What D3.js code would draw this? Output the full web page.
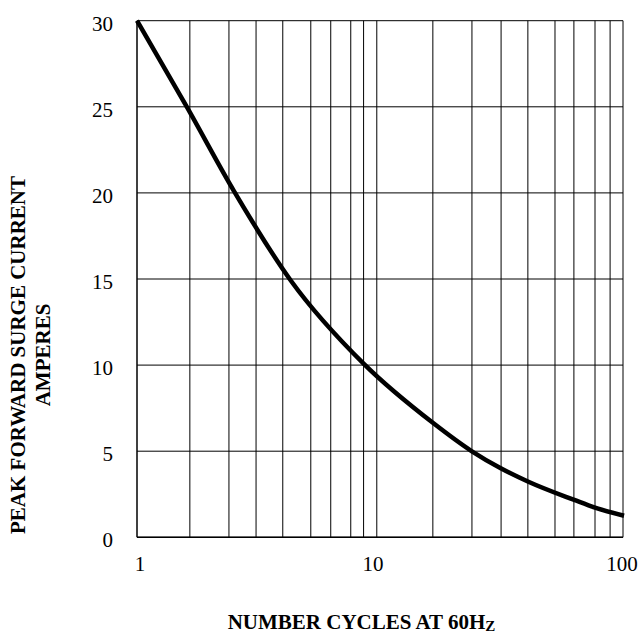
<!DOCTYPE html>
<html>
<head>
<meta charset="utf-8">
<script src="https://cdn.jsdelivr.net/npm/d3@7"></script>
<style>
  body { margin: 0; background: #fff; }
  svg text { font-family: "Liberation Serif", "Times New Roman", serif; fill: #000; }
</style>
</head>
<body>
<svg id="chart"></svg>
<script>
// surge curve
var cycles  = [1, 1.61, 2.51, 4.3, 8.54, 16.6, 23.8, 31.4, 40.8, 63, 76.7, 101];
var current = [30, 24.95, 20.09, 14.9, 10.1, 6.62, 5.01, 4.01, 3.23, 2.17, 1.72, 1.25];

// the printed grid is not a true log grid, so keep where its lines really sit
var xGrid = [1.65, 2.39, 3.09, 3.98, 5.19, 6.27, 7.58, 8.56, 9.7, 16.5, 23.9, 31.5, 40.6, 52.5, 62.8, 76.7, 88.5, 100];
var xTicks = [1, 10, 100];
var yTicks = [0, 5, 10, 15, 20, 25, 30];

var width = 639, height = 633;
var margin = {top: 20.7, right: 16, bottom: 95.7, left: 137};

var svg = d3.select("#chart")
    .attr("width", width)
    .attr("height", height);

var x = d3.scaleLog()
  .domain([1, 100])
  .range([margin.left, width - margin.right]);
var y = d3.scaleLinear()
  .domain([0, 30])
  .range([height - margin.bottom, margin.top]);

var data = cycles.map(function(c, i) { return {c: c, a: current[i]}; });

// grid
svg.append("g")
  .attr("class", "vgrid")
  .selectAll("line")
    .data(xGrid)
    .enter().append("line")
      .attr("x1", function(d) { return x(d); })
      .attr("x2", function(d) { return x(d); })
      .attr("y1", y(30))
      .attr("y2", y(0))
      .style("stroke", "#000")
      .style("stroke-width", 1);

svg.append("g")
  .attr("class", "hgrid")
  .selectAll("line")
    .data(yTicks)
    .enter().append("line")
      .attr("x1", x(1))
      .attr("x2", x(100))
      .attr("y1", function(d) { return y(d); })
      .attr("y2", function(d) { return y(d); })
      .style("stroke", "#000")
      .style("stroke-width", 1);

// left and bottom edge of the frame
svg.append("line")
  .attr("x1", x(1)).attr("x2", x(1))
  .attr("y1", y(30)).attr("y2", y(0))
  .style("stroke", "#000")
  .style("stroke-width", 1.5);
svg.append("line")
  .attr("x1", x(1)).attr("x2", x(100))
  .attr("y1", y(0)).attr("y2", y(0))
  .style("stroke", "#000")
  .style("stroke-width", 1.5);

// tick labels
svg.append("g")
  .selectAll("text")
    .data(yTicks)
    .enter().append("text")
      .attr("text-anchor", "end")
      .attr("x", x(1) - 24)
      .attr("y", function(d) { return y(d); })
      .attr("dy", "0.48em")
      .style("font-size", "21px")
      .text(function(d) { return d; });

svg.append("g")
  .selectAll("text")
    .data(xTicks)
    .enter().append("text")
      .attr("text-anchor", "middle")
      .attr("x", function(d) { return x(d); })
      .attr("dx", function(d, i) { return [3, -7, -1][i]; })
      .attr("y", y(0) + 33.4)
      .style("font-size", "21px")
      .text(function(d) { return d; });

// curve
var line = d3.line()
  .x(function(d) { return x(d.c); })
  .y(function(d) { return y(d.a); })
  .curve(d3.curveMonotoneX);

svg.append("path")
  .datum(data)
  .attr("d", line)
  .style("fill", "none")
  .style("stroke", "#000")
  .style("stroke-width", 4.5)
  .style("stroke-linejoin", "round");

// axis titles
var xt = svg.append("text")
  .attr("text-anchor", "middle")
  .attr("x", 361.5)
  .attr("y", 629)
  .style("font-size", "21px")
  .style("font-weight", "bold");
xt.append("tspan").text("NUMBER CYCLES AT 60H");
xt.append("tspan").attr("dy", 2).style("font-size", "15px").text("Z");

var yt = svg.append("text")
  .attr("text-anchor", "middle")
  .attr("transform", "translate(25,355) rotate(-90)")
  .style("font-size", "21px")
  .style("font-weight", "bold");
yt.append("tspan").attr("x", 0).attr("y", 0).text("PEAK FORWARD SURGE CURRENT");
yt.append("tspan").attr("x", 0).attr("y", 25).text("AMPERES");
</script>
</body>
</html>
